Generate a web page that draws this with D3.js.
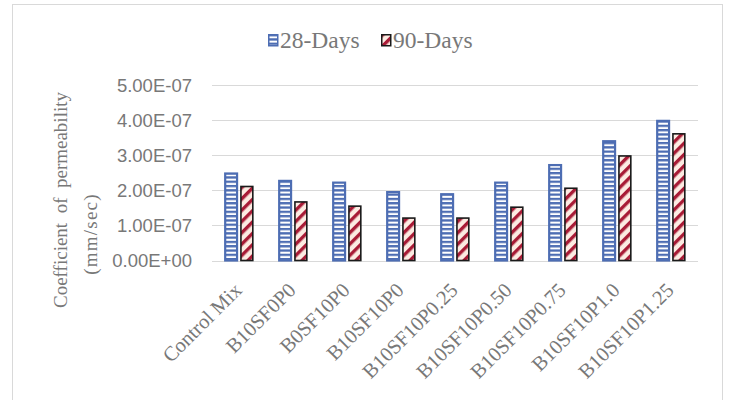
<!DOCTYPE html>
<html>
<head>
<meta charset="utf-8">
<script src="https://cdn.jsdelivr.net/npm/d3@7"></script>
<style>
  html, body { margin: 0; padding: 0; background: #fff; }
  svg { display: block; }
</style>
</head>
<body>
<svg id="chart" width="730" height="400"></svg>
<script>
// Permeability coefficients (mm/sec) per mix, two curing ages
const categories = ["Control Mix", "B10SF0P0", "B0SF10P0", "B10SF10P0", "B10SF10P0.25",
                    "B10SF10P0.50", "B10SF10P0.75", "B10SF10P1.0", "B10SF10P1.25"];
const seriesNames = ["28-Days", "90-Days"];
const days28 = [2.50e-7, 2.29e-7, 2.24e-7, 1.97e-7, 1.91e-7, 2.24e-7, 2.74e-7, 3.42e-7, 4.00e-7];
const days90 = [2.13e-7, 1.69e-7, 1.57e-7, 1.23e-7, 1.23e-7, 1.54e-7, 2.08e-7, 3.00e-7, 3.63e-7];
const yTicks = [0, 1e-7, 2e-7, 3e-7, 4e-7, 5e-7];
const yTickLabels = ["0.00E+00", "1.00E-07", "2.00E-07", "3.00E-07", "4.00E-07", "5.00E-07"];
const yTitle = ["Coefficient  of  permeability", "(mm/sec)"];

const rows = categories.map((c, i) => ({ cat: c, values: [days28[i], days90[i]] }));

const svg = d3.select("#chart");
const plot = { left: 212, right: 698, top: 85, bottom: 260.5 };

const BLUE = "#4d6db3";
const RED = "#a81b36";
const SERIF = "'Liberation Serif', 'Times New Roman', serif";
const SANS = "'Liberation Sans', Arial, sans-serif";
const GREY_TEXT = "#787878";

// Fill patterns for the two series
const defs = svg.append("defs");
const pBlue = defs.append("pattern").attr("id", "pat28")
  .attr("patternUnits", "userSpaceOnUse").attr("width", 8).attr("height", 4.3);
pBlue.append("rect").attr("width", 8).attr("height", 4.3).attr("fill", BLUE);
pBlue.append("rect").attr("y", 2.3).attr("width", 8).attr("height", 2).attr("fill", "#ffffff");

const pRed = defs.append("pattern").attr("id", "pat90")
  .attr("patternUnits", "userSpaceOnUse").attr("width", 8).attr("height", 8)
  .attr("patternTransform", "rotate(45)");
pRed.append("rect").attr("width", 8).attr("height", 8).attr("fill", "#fcebe2");
pRed.append("rect").attr("x", 0).attr("width", 3.4).attr("height", 8).attr("fill", RED);

// Outer chart frame
svg.append("rect")
  .attr("x", 12.5).attr("y", 4.5).attr("width", 710).attr("height", 400)
  .attr("fill", "#fff").attr("stroke", "#d9d9d9").attr("stroke-width", 1);

const x0 = d3.scaleBand().domain(categories).range([plot.left, plot.right]).padding(0);
const x1 = d3.scaleBand().domain(seriesNames).range([0, x0.bandwidth()])
  .paddingInner(0.15).paddingOuter(0.79);
const y = d3.scaleLinear().domain([0, 5e-7]).range([plot.bottom, plot.top]);

// Gridlines
svg.append("g").selectAll("line").data(yTicks).join("line")
  .attr("x1", plot.left).attr("x2", plot.right)
  .attr("y1", d => Math.round(y(d)) + 0.5).attr("y2", d => Math.round(y(d)) + 0.5)
  .attr("stroke", "#d9d9d9").attr("stroke-width", 1);

// Y axis labels
const yAxis = d3.axisLeft(y).tickValues(yTicks)
  .tickFormat((d, i) => yTickLabels[i]).tickSize(0).tickPadding(0);
const gy = svg.append("g").attr("transform", `translate(${plot.left - 20},0)`).call(yAxis);
gy.select(".domain").remove();
gy.selectAll("text").attr("font-family", SANS).attr("font-size", 18.5)
  .attr("fill", GREY_TEXT).attr("dy", "0.34em");

// Bars
const fills = ["url(#pat28)", "url(#pat90)"];
const strokes = [BLUE, "#1a1a1a"];
const groups = svg.append("g").selectAll("g").data(rows).join("g")
  .attr("transform", d => `translate(${x0(d.cat)},0)`);
groups.selectAll("rect").data(d => d.values.map((v, i) => ({ v, s: seriesNames[i], i })))
  .join("rect")
  .attr("x", d => x1(d.s) + 0.75)
  .attr("width", x1.bandwidth() - 1.5)
  .attr("y", d => y(d.v) + 0.75)
  .attr("height", d => y(0) - y(d.v) - 0.75)
  .attr("fill", d => fills[d.i])
  .attr("stroke", d => strokes[d.i])
  .attr("stroke-width", d => d.i === 0 ? 2.2 : 1.6);

// Category labels
svg.append("g").selectAll("text").data(categories).join("text")
  .attr("transform", d => `translate(${x0(d) + x0.bandwidth() / 2 + 4},${plot.bottom + 31}) rotate(-45)`)
  .attr("text-anchor", "end")
  .attr("font-family", SERIF).attr("font-size", 20.5).attr("fill", GREY_TEXT)
  .text(d => d);

// Y axis title (two lines)
svg.append("text")
  .attr("transform", "translate(67,200) rotate(-90)")
  .attr("text-anchor", "middle").attr("font-family", SERIF).attr("font-size", 19)
  .attr("fill", GREY_TEXT).attr("xml:space", "preserve")
  .text(yTitle[0]);
svg.append("text")
  .attr("transform", "translate(97,234) rotate(-90)")
  .attr("text-anchor", "middle").attr("font-family", SERIF).attr("font-size", 19)
  .attr("fill", GREY_TEXT).attr("letter-spacing", 1.2)
  .text(yTitle[1]);

// Legend
const legendItems = [
  { name: seriesNames[0], x: 268 },
  { name: seriesNames[1], x: 381 }
];
const lg = svg.append("g").selectAll("g").data(legendItems).join("g")
  .attr("transform", d => `translate(${d.x},34)`);
lg.append("rect").attr("x", 0.75).attr("y", 0.75).attr("width", 9).attr("height", 11)
  .attr("fill", (d, i) => fills[i]).attr("stroke", (d, i) => strokes[i]).attr("stroke-width", 1.5);
lg.append("text").attr("x", 12).attr("y", 13.5)
  .attr("font-family", SERIF).attr("font-size", 23.5).attr("fill", GREY_TEXT)
  .text(d => d.name);
</script>
</body>
</html>
